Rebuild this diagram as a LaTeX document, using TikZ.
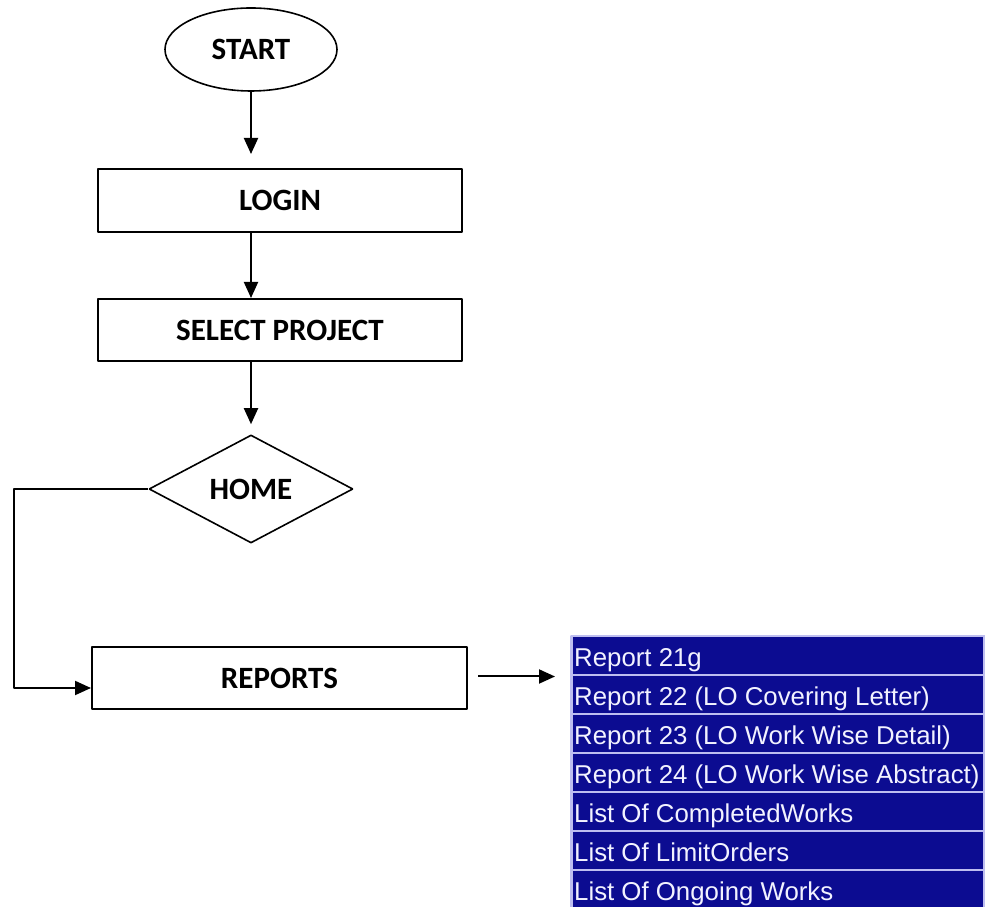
\documentclass[tikz,border=0pt]{standalone}
\usepackage{fontspec}
\setmainfont{Carlito}
\newfontfamily\menufont{Liberation Sans}
\usepackage{tikz}
\usetikzlibrary{arrows.meta, shapes.geometric, calc}

\definecolor{menublue}{RGB}{12,12,145}
\definecolor{menuline}{RGB}{190,190,240}
\definecolor{menutext}{RGB}{242,242,255}

\tikzset{
  flowtext/.style={font=\fontsize{31bp}{37bp}\selectfont\bfseries, inner sep=0pt},
  flowbox/.style={flowtext, draw, line width=2bp, rectangle, minimum width=364bp, minimum height=63bp},
  startnode/.style={flowtext, draw, line width=1.6bp, ellipse, minimum width=172bp, minimum height=83bp},
  homenode/.style={flowtext, draw, line width=1.6bp, diamond, minimum width=204bp, minimum height=108bp},
  menuitem/.style={draw=menuline, fill=menublue, line width=2.5bp, minimum width=413bp, minimum height=39bp, inner sep=0pt, anchor=north west},
  menulabel/.style={text=menutext, font=\menufont\fontsize{25.8bp}{30bp}\selectfont, inner sep=0pt, anchor=base west}
}

\begin{document}
\begin{tikzpicture}[>={Triangle[length=16bp,width=14bp]}, line join=bevel]
\useasboundingbox (0bp,0bp) rectangle (985bp,907bp);
%%
  % Node: start
  \node[startnode] (start) at (251bp,857.5bp) {START};
  % Node: login
  \node[flowbox] (login) at (280bp,706.5bp) {LOGIN};
  % Node: select
  \node[flowbox, minimum height=62bp] (select) at (280bp,577bp) {SELECT PROJECT};
  % Node: home
  \node[homenode] (home) at (251bp,418bp) {HOME};
  % Node: reports
  \node[flowbox, minimum width=375bp, minimum height=62bp] (reports) at (279.5bp,229bp) {REPORTS};
  \coordinate (back) at (14bp,219bp);
  % Menu rows
  \foreach \txt [count=\i] in {Report 21g, Report 22 (LO Covering Letter), Report 23 (LO Work Wise Detail),
      Report 24 (LO Work Wise Abstract), List Of CompletedWorks, List Of LimitOrders, List Of Ongoing Works}{
    \node[menuitem] (item\i) at (570bp,{272bp-(\i-1)*39bp}) {};
    \node[menulabel] (label\i) at ([xshift=4bp,yshift=10bp]item\i.south west) {\txt};
  }
%
\begin{scope}[line width=2bp]
  % Edge: start -- login
  \draw[->] (start.south) -- ([yshift=14bp]start.south |- login.north);
  % Edge: login -- select
  \draw[->] (start.south |- login.south) -- (start.south |- select.north);
  % Edge: select -- home
  \draw[->] (start.south |- select.south) -- ([yshift=10bp]home.north);
  % Edge: home -- reports
  \draw[->] (home.west) -| (back) -- (back -| reports.west);
  % Edge: reports -- menu
  \draw[->] ([xshift=10bp]reports.east |- item1.south west) -- ([xshift=-15bp]item1.south west);
\end{scope}
%
\end{tikzpicture}
\end{document}
